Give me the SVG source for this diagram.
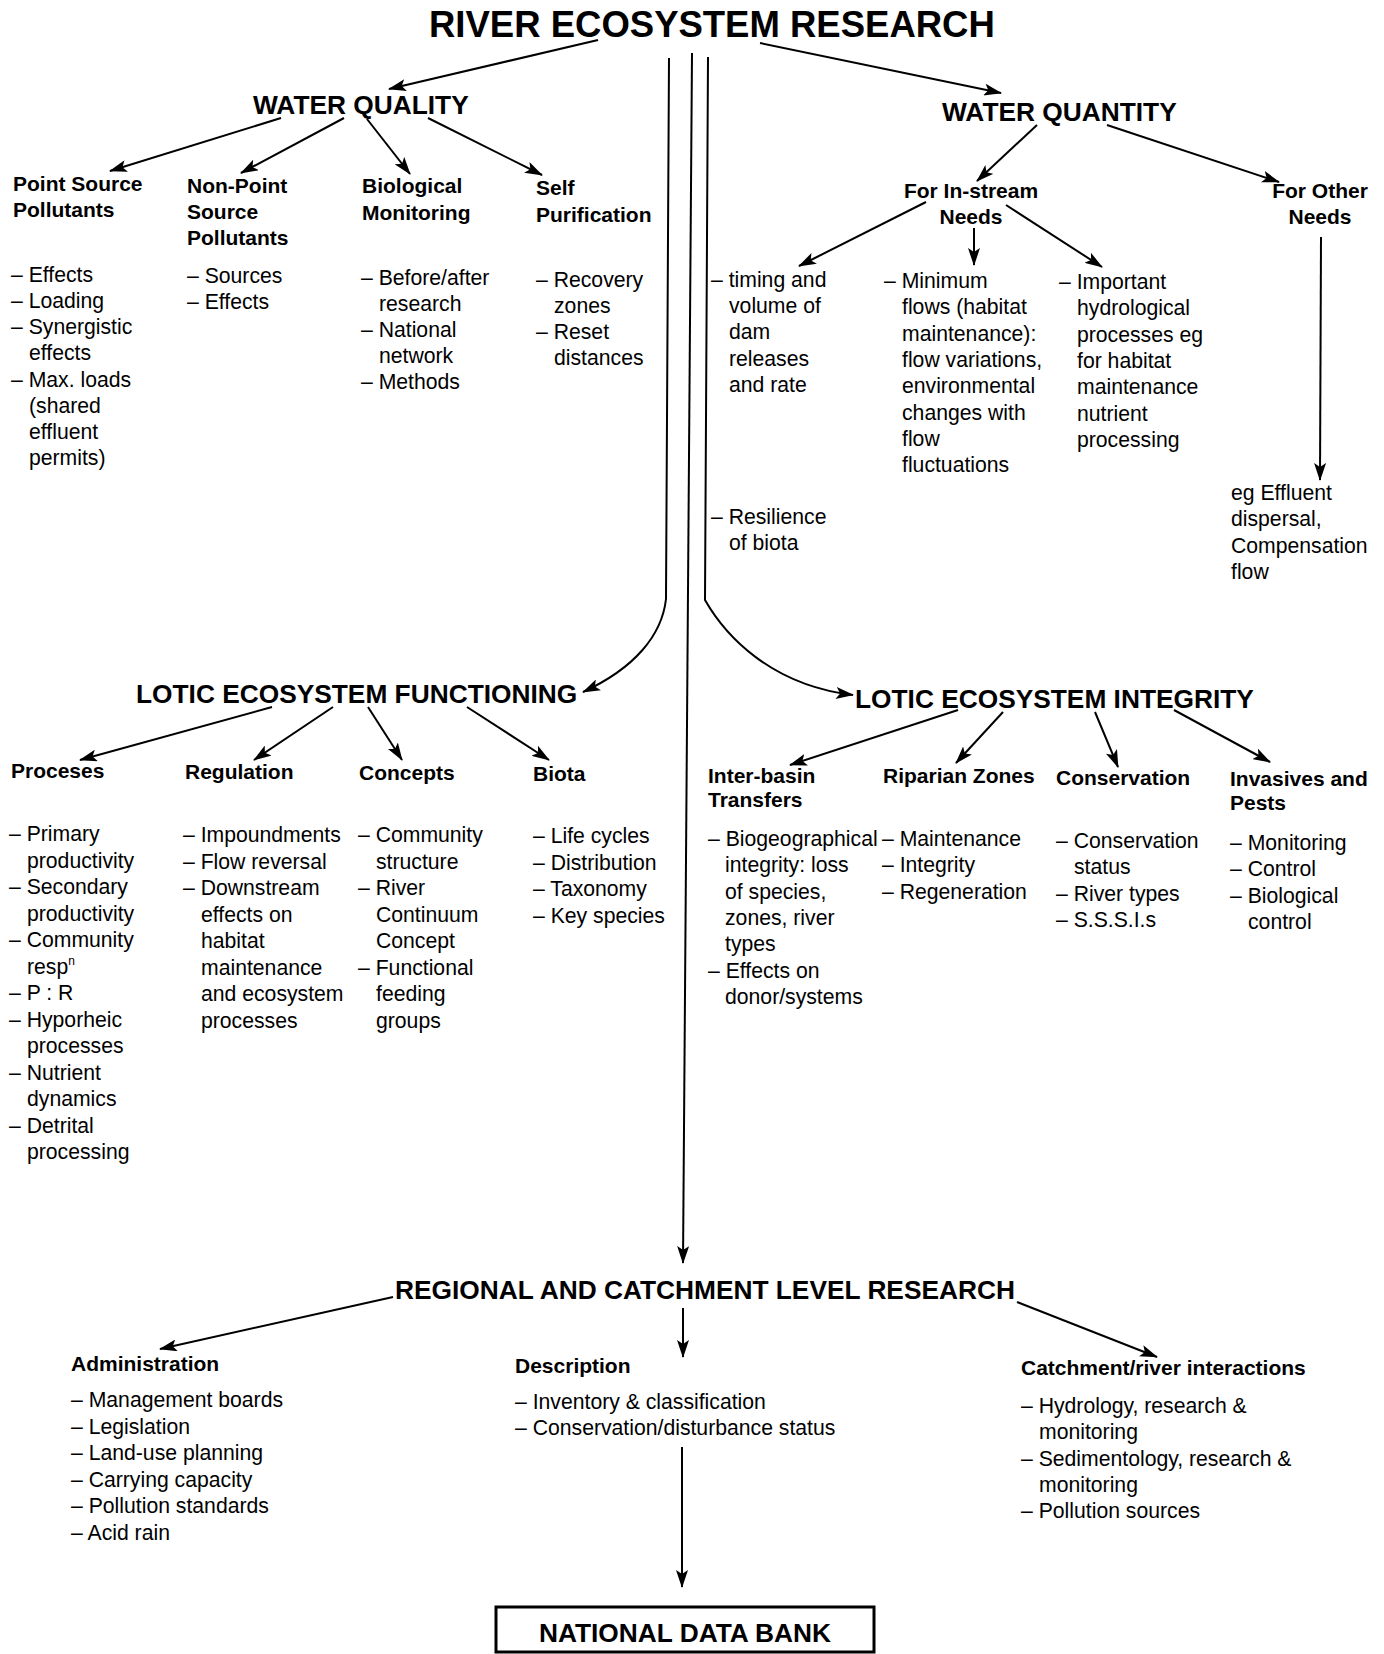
<svg xmlns="http://www.w3.org/2000/svg" width="1384" height="1654" viewBox="0 0 1384 1654">
<defs>
<style>
text{font-family:"Liberation Sans",Arial,Helvetica,sans-serif;fill:#000}
.h1{font-size:36.5px;font-weight:bold}
.h2{font-size:26.3px;font-weight:bold}
.h3{font-size:21px;font-weight:bold}
.b{font-size:21.2px}
.c{text-anchor:middle}
.ln{fill:none;stroke:#000;stroke-width:2;marker-end:url(#ah)}
</style>
<marker id="ah" viewBox="0 0 18 12" refX="17" refY="6" markerWidth="18" markerHeight="12" markerUnits="userSpaceOnUse" orient="auto">
<path d="M0,0 L18,6 L0,12 L4,6 z" fill="#000"/>
</marker>
</defs>
<rect width="1384" height="1654" fill="#fff"/>

<g id="connectors">
<path class="ln" d="M598,40 L389,89"/>
<path class="ln" d="M760,43 L1001,93"/>
<path class="ln" d="M669,58 L666,599 C662,635 635,668 583,692"/>
<path class="ln" d="M692,53 L683,1263"/>
<path class="ln" d="M708,57 L705,600 C725,635 770,685 853,695"/>
<path class="ln" d="M281,118 L110,171"/>
<path class="ln" d="M344,118 L241,173"/>
<path class="ln" d="M367,119 L410,174"/>
<path class="ln" d="M428,118 L542,175"/>
<path class="ln" d="M1037,125 L977,181"/>
<path class="ln" d="M1107,125 L1279,182"/>
<path class="ln" d="M926,202 L799,266"/>
<path class="ln" d="M974,228 L974,265"/>
<path class="ln" d="M1006,205 L1102,267"/>
<path class="ln" d="M1321,237 L1320,480"/>
<path class="ln" d="M272,707 L80,760"/>
<path class="ln" d="M333,707 L254,760"/>
<path class="ln" d="M368,707 L402,760"/>
<path class="ln" d="M467,707 L549,760"/>
<path class="ln" d="M958,710 L790,765"/>
<path class="ln" d="M1003,712 L956,763"/>
<path class="ln" d="M1095,712 L1118,767"/>
<path class="ln" d="M1174,710 L1270,762"/>
<path class="ln" d="M393,1297 L160,1349"/>
<path class="ln" d="M683,1308 L683,1357"/>
<path class="ln" d="M1017,1302 L1157,1357"/>
<path class="ln" d="M682,1447 L682,1587"/>
</g>

<g id="n-title"><text class="h1" x="429" y="37">RIVER ECOSYSTEM RESEARCH</text></g>

<g id="n-water-quality"><text class="h2" x="253" y="114">WATER QUALITY</text></g>

<g id="n-point-source">
<text class="h3"><tspan x="13" y="191">Point Source</tspan><tspan x="13" y="217">Pollutants</tspan></text>
<text class="b"><tspan x="11" y="282">– Effects</tspan><tspan x="11" y="308">– Loading</tspan><tspan x="11" y="334">– Synergistic</tspan><tspan x="29" y="360">effects</tspan><tspan x="11" y="387">– Max. loads</tspan><tspan x="29" y="413">(shared</tspan><tspan x="29" y="439">effluent</tspan><tspan x="29" y="465">permits)</tspan></text>
</g>

<g id="n-non-point">
<text class="h3"><tspan x="187" y="193">Non-Point</tspan><tspan x="187" y="219">Source</tspan><tspan x="187" y="245">Pollutants</tspan></text>
<text class="b"><tspan x="187" y="283">– Sources</tspan><tspan x="187" y="309">– Effects</tspan></text>
</g>

<g id="n-biological">
<text class="h3"><tspan x="362" y="193">Biological</tspan><tspan x="362" y="220">Monitoring</tspan></text>
<text class="b"><tspan x="361" y="285">– Before/after</tspan><tspan x="379" y="311">research</tspan><tspan x="361" y="337">– National</tspan><tspan x="379" y="363">network</tspan><tspan x="361" y="389">– Methods</tspan></text>
</g>

<g id="n-self">
<text class="h3"><tspan x="536" y="195">Self</tspan><tspan x="536" y="222">Purification</tspan></text>
<text class="b"><tspan x="536" y="287">– Recovery</tspan><tspan x="554" y="313">zones</tspan><tspan x="536" y="339">– Reset</tspan><tspan x="554" y="365">distances</tspan></text>
</g>

<g id="n-water-quantity"><text class="h2" x="942" y="121">WATER QUANTITY</text></g>

<g id="n-instream"><text class="h3 c"><tspan x="971" y="198">For In-stream</tspan><tspan x="971" y="224">Needs</tspan></text></g>

<g id="n-other-needs"><text class="h3 c"><tspan x="1320" y="198">For Other</tspan><tspan x="1320" y="224">Needs</tspan></text></g>

<g id="n-timing">
<text class="b"><tspan x="711" y="287">– timing and</tspan><tspan x="729" y="313">volume of</tspan><tspan x="729" y="339">dam</tspan><tspan x="729" y="366">releases</tspan><tspan x="729" y="392">and rate</tspan><tspan x="711" y="524">– Resilience</tspan><tspan x="729" y="550">of biota</tspan></text>
</g>

<g id="n-minimum">
<text class="b"><tspan x="884" y="288">– Minimum</tspan><tspan x="902" y="314">flows (habitat</tspan><tspan x="902" y="341">maintenance):</tspan><tspan x="902" y="367">flow variations,</tspan><tspan x="902" y="393">environmental</tspan><tspan x="902" y="420">changes with</tspan><tspan x="902" y="446">flow</tspan><tspan x="902" y="472">fluctuations</tspan></text>
</g>

<g id="n-important">
<text class="b"><tspan x="1059" y="289">– Important</tspan><tspan x="1077" y="315">hydrological</tspan><tspan x="1077" y="342">processes eg</tspan><tspan x="1077" y="368">for habitat</tspan><tspan x="1077" y="394">maintenance</tspan><tspan x="1077" y="421">nutrient</tspan><tspan x="1077" y="447">processing</tspan></text>
</g>

<g id="n-effluent">
<text class="b"><tspan x="1231" y="500">eg Effluent</tspan><tspan x="1231" y="526">dispersal,</tspan><tspan x="1231" y="553">Compensation</tspan><tspan x="1231" y="579">flow</tspan></text>
</g>

<g id="n-functioning"><text class="h2" x="136" y="703">LOTIC ECOSYSTEM FUNCTIONING</text></g>

<g id="n-proceses">
<text class="h3" x="11" y="778">Proceses</text>
<text class="b"><tspan x="9" y="841">– Primary</tspan><tspan x="27" y="867.5">productivity</tspan><tspan x="9" y="894">– Secondary</tspan><tspan x="27" y="920.5">productivity</tspan><tspan x="9" y="947">– Community</tspan><tspan x="27" y="973.5">resp</tspan><tspan dy="-9" font-size="12">n</tspan><tspan x="9" y="1000">– P : R</tspan><tspan x="9" y="1026.5">– Hyporheic</tspan><tspan x="27" y="1053">processes</tspan><tspan x="9" y="1079.5">– Nutrient</tspan><tspan x="27" y="1106">dynamics</tspan><tspan x="9" y="1132.5">– Detrital</tspan><tspan x="27" y="1159">processing</tspan></text>
</g>

<g id="n-regulation">
<text class="h3" x="185" y="779">Regulation</text>
<text class="b"><tspan x="183" y="842">– Impoundments</tspan><tspan x="183" y="868.5">– Flow reversal</tspan><tspan x="183" y="895">– Downstream</tspan><tspan x="201" y="921.5">effects on</tspan><tspan x="201" y="948">habitat</tspan><tspan x="201" y="974.5">maintenance</tspan><tspan x="201" y="1001">and ecosystem</tspan><tspan x="201" y="1027.5">processes</tspan></text>
</g>

<g id="n-concepts">
<text class="h3" x="359" y="780">Concepts</text>
<text class="b"><tspan x="358" y="842">– Community</tspan><tspan x="376" y="868.5">structure</tspan><tspan x="358" y="895">– River</tspan><tspan x="376" y="921.5">Continuum</tspan><tspan x="376" y="948">Concept</tspan><tspan x="358" y="974.5">– Functional</tspan><tspan x="376" y="1001">feeding</tspan><tspan x="376" y="1027.5">groups</tspan></text>
</g>

<g id="n-biota">
<text class="h3" x="533" y="781">Biota</text>
<text class="b"><tspan x="533" y="843">– Life cycles</tspan><tspan x="533" y="869.5">– Distribution</tspan><tspan x="533" y="896">– Taxonomy</tspan><tspan x="533" y="922.5">– Key species</tspan></text>
</g>

<g id="n-integrity"><text class="h2" x="855" y="708">LOTIC ECOSYSTEM INTEGRITY</text></g>

<g id="n-inter-basin">
<text class="h3"><tspan x="708" y="783">Inter-basin</tspan><tspan x="708" y="807">Transfers</tspan></text>
<text class="b" font-size="20.4"><tspan x="708" y="846">– Biogeographical</tspan><tspan x="725" y="872">integrity: loss</tspan><tspan x="725" y="898.5">of species,</tspan><tspan x="725" y="925">zones, river</tspan><tspan x="725" y="951">types</tspan><tspan x="708" y="977.5">– Effects on</tspan><tspan x="725" y="1004">donor/systems</tspan></text>
</g>

<g id="n-riparian">
<text class="h3" x="883" y="783">Riparian Zones</text>
<text class="b"><tspan x="882" y="846">– Maintenance</tspan><tspan x="882" y="872">– Integrity</tspan><tspan x="882" y="898.5">– Regeneration</tspan></text>
</g>

<g id="n-conservation">
<text class="h3" x="1056" y="785">Conservation</text>
<text class="b"><tspan x="1056" y="848">– Conservation</tspan><tspan x="1074" y="874">status</tspan><tspan x="1056" y="900.5">– River types</tspan><tspan x="1056" y="927">– S.S.S.I.s</tspan></text>
</g>

<g id="n-invasives">
<text class="h3"><tspan x="1230" y="786">Invasives and</tspan><tspan x="1230" y="810">Pests</tspan></text>
<text class="b"><tspan x="1230" y="850">– Monitoring</tspan><tspan x="1230" y="876">– Control</tspan><tspan x="1230" y="902.5">– Biological</tspan><tspan x="1248" y="929">control</tspan></text>
</g>

<g id="n-regional"><text class="h2" x="395" y="1299">REGIONAL AND CATCHMENT LEVEL RESEARCH</text></g>

<g id="n-administration">
<text class="h3" x="71" y="1371">Administration</text>
<text class="b"><tspan x="71" y="1407">– Management boards</tspan><tspan x="71" y="1433.5">– Legislation</tspan><tspan x="71" y="1460">– Land-use planning</tspan><tspan x="71" y="1486.5">– Carrying capacity</tspan><tspan x="71" y="1513">– Pollution standards</tspan><tspan x="71" y="1539.5">– Acid rain</tspan></text>
</g>

<g id="n-description">
<text class="h3" x="515" y="1373">Description</text>
<text class="b"><tspan x="515" y="1409">– Inventory &amp; classification</tspan><tspan x="515" y="1435">– Conservation/disturbance status</tspan></text>
</g>

<g id="n-catchment">
<text class="h3" x="1021" y="1375">Catchment/river interactions</text>
<text class="b"><tspan x="1021" y="1413">– Hydrology, research &amp;</tspan><tspan x="1039" y="1439">monitoring</tspan><tspan x="1021" y="1466">– Sedimentology, research &amp;</tspan><tspan x="1039" y="1492">monitoring</tspan><tspan x="1021" y="1518">– Pollution sources</tspan></text>
</g>

<g id="n-data-bank">
<rect x="496" y="1607" width="378" height="45" fill="#fff" stroke="#000" stroke-width="3"/>
<text class="h2 c" x="685" y="1642">NATIONAL DATA BANK</text>
</g>
</svg>
